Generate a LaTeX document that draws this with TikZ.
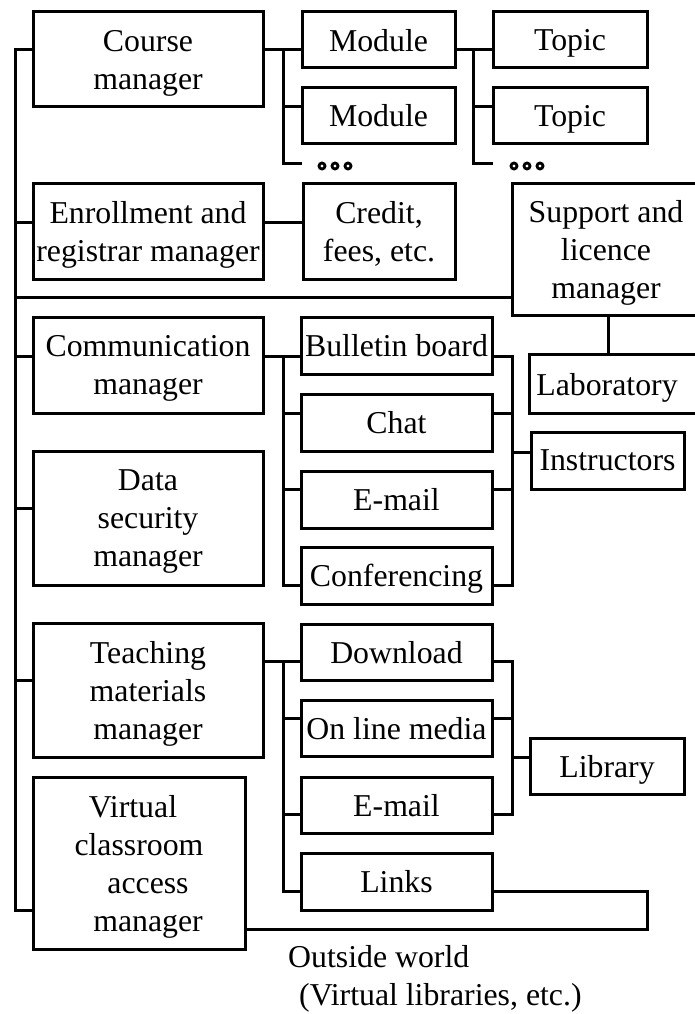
\documentclass[tikz,border=0pt]{standalone}
\usepackage{fontspec}
\setmainfont{Liberation Serif}
\begin{document}
\begin{tikzpicture}[x=1pt,y=-1pt,
  box/.style={draw,line width=3pt,inner sep=0pt,align=center,text depth=0pt,
    font=\fontsize{31.8}{38}\selectfont},
  plain/.style={inner sep=0pt,align=center,font=\fontsize{31.8}{38}\selectfont},
  conn/.style={line width=3pt,line cap=rect},
  dot/.style={draw,line width=2.8pt,circle,inner sep=0pt,minimum size=6pt}]
\useasboundingbox (0,0) rectangle (695,1014);
% boxes
\node[box,minimum width=230,minimum height=95] (course) at (148,59.5) {Course\\manager};
\node[box,minimum width=153,minimum height=56] (mod1) at (378.5,40) {Module};
\node[box,minimum width=153,minimum height=55] (mod2) at (378.5,115.5) {Module};
\node[box,minimum width=154,minimum height=56] (top1) at (570,40) {Topic};
\node[box,minimum width=154,minimum height=55] (top2) at (570,115.5) {Topic};
\node[box,minimum width=230,minimum height=96] (enroll) at (148,231) {Enrollment and\\registrar manager};
\node[box,minimum width=152,minimum height=96] (credit) at (379,231) {Credit,\\fees, etc.};
\node[box,minimum width=188,minimum height=132] (support) at (606,249) {Support and\\licence\\manager};
\node[plain,text depth=0pt,minimum width=154,minimum height=58] (lab) at (607,384) {Laboratory};
\draw[line width=3pt] (lab.north west) rectangle ([xshift=20pt]lab.south east);
\node[box,minimum width=230,minimum height=96] (comm) at (148,365) {Communication\\manager};
\node[box,minimum width=191,minimum height=57] (bull) at (396.5,345.5) {Bulletin board};
\node[box,minimum width=191,minimum height=57] (chat) at (396.5,422.5) {Chat};
\node[box,minimum width=191,minimum height=57] (mail1) at (396.5,499.5) {E-mail};
\node[box,minimum width=191,minimum height=57] (conf) at (396.5,575.5) {Conferencing};
\node[box,minimum width=153,minimum height=57] (instr) at (607.5,460.5) {Instructors};
\node[box,minimum width=230,minimum height=134] (data) at (148,518) {Data\\security\\manager};
\node[box,minimum width=230,minimum height=134] (teach) at (148,690) {Teaching\\materials\\manager};
\node[box,minimum width=191,minimum height=56] (down) at (396.5,652) {Download};
\node[box,minimum width=191,minimum height=56] (online) at (396.5,728) {On line media};
\node[box,minimum width=191,minimum height=56] (mail2) at (396.5,805) {E-mail};
\node[box,minimum width=191,minimum height=57] (links) at (396.5,881.5) {Links};
\node[box,minimum width=154,minimum height=56] (lib) at (607,766) {Library};
\node[box,minimum width=212,minimum height=172] (virt) at (139,863) {Virtual\hspace*{12pt}\\classroom\hspace*{4pt}\\\hspace*{18pt}access\\\hspace*{18pt}manager};
% dots
\node[dot] (d1) at (322,166) {};
\node[dot] (d2) at (335,166) {};
\node[dot] (d3) at (348,166) {};
\node[dot] (e1) at (514,166) {};
\node[dot] (e2) at (527,166) {};
\node[dot] (e3) at (540,166) {};
% outside world
\node[plain,anchor=base west] (out1) at (288,967) {Outside world};
\node[plain,anchor=base west] (out2) at (299,1005) {(Virtual libraries, etc.)};
% coordinates
\coordinate (ttop) at (15,50);
\coordinate (tbot) at (15,910);
\coordinate (cb) at (283,163);
\coordinate (mb) at (473,163);
\coordinate (ca) at (283,356);
\coordinate (cr) at (512,356);
\coordinate (ta) at (283,661);
\coordinate (tr) at (512,661);
\coordinate (vc) at (647,929);
% trunk
\draw[conn] (ttop) -- (tbot);
\draw[conn] (ttop) -- (ttop -| course.west);
\draw[conn] (15,222) -- (15,222 -| enroll.west);
\draw[conn] (15,297) -- (15,297 -| support.west);
\draw[conn] (15,356) -- (15,356 -| comm.west);
\draw[conn] (15,508) -- (15,508 -| data.west);
\draw[conn] (15,680) -- (15,680 -| teach.west);
\draw[conn] (tbot) -- (tbot -| virt.west);
% course branch
\draw[conn] (course.east |- 0,50) -- (mod1.west |- 0,50);
\draw[conn] (283,50) -- (cb) -- (cb -| mod1.west);
\draw[conn] (283,107) -- (283,107 -| mod2.west);
% module branch
\draw[conn] (mod1.east |- 0,50) -- (top1.west |- 0,50);
\draw[conn] (473,50) -- (mb) -- (mb -| top1.west);
\draw[conn] (473,107) -- (473,107 -| top2.west);
% enrollment
\draw[conn] (enroll.east |- 0,222) -- (credit.west |- 0,222);
% support to lab
\draw[conn] (support.south -| 608,0) -- (lab.north -| 608,0);
% communication
\draw[conn] (comm.east |- ca) -- (bull.west |- ca);
\draw[conn] (ca) -- (283,585);
\draw[conn] (283,413) -- (283,413 -| chat.west);
\draw[conn] (283,489) -- (283,489 -| mail1.west);
\draw[conn] (283,585) -- (283,585 -| conf.west);
\draw[conn] (bull.east |- cr) -- (cr) -- (512,585) -- (512,585 -| conf.east);
\draw[conn] (chat.east |- 0,413) -- (512,413);
\draw[conn] (mail1.east |- 0,489) -- (512,489);
\draw[conn] (512,452) -- (512,452 -| instr.west);
% teaching
\draw[conn] (teach.east |- ta) -- (down.west |- ta);
\draw[conn] (ta) -- (283,891);
\draw[conn] (283,718) -- (283,718 -| online.west);
\draw[conn] (283,814) -- (283,814 -| mail2.west);
\draw[conn] (283,891) -- (283,891 -| links.west);
\draw[conn] (down.east |- tr) -- (tr) -- (512,814) -- (512,814 -| mail2.east);
\draw[conn] (online.east |- 0,718) -- (512,718);
\draw[conn] (512,757) -- (512,757 -| lib.west);
% virtual to links
\draw[conn] (virt.east |- vc) -- (vc) -- (647,891) -- (647,891 -| links.east);
\end{tikzpicture}
\end{document}
